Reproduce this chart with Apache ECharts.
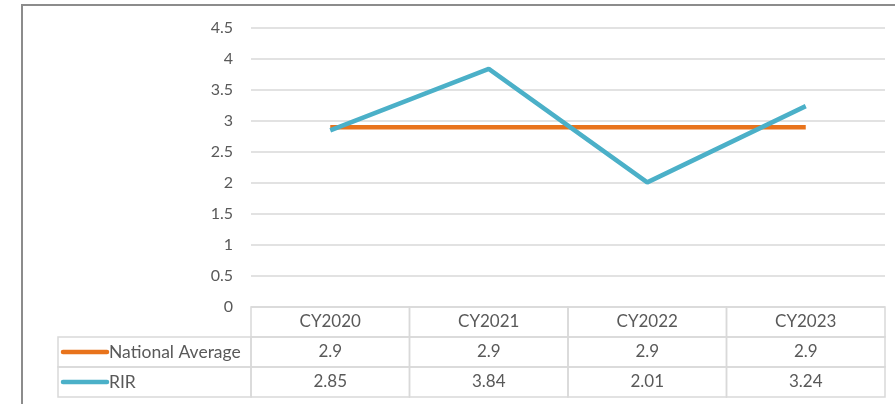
<!DOCTYPE html>
<html><head><meta charset="utf-8">
<script src="https://cdn.jsdelivr.net/npm/echarts@6/dist/echarts.min.js"></script>
<style>html,body{margin:0;padding:0;background:#fff}#c{width:895px;height:404px}</style>
</head><body><div id="c"></div>
<script>
var categories = ['CY2020', 'CY2021', 'CY2022', 'CY2023'];
var seriesNames = ['National Average', 'RIR'];
var nationalAverage = [2.9, 2.9, 2.9, 2.9];
var rir = [2.85, 3.84, 2.01, 3.24];
var yTicks = [0, 0.5, 1, 1.5, 2, 2.5, 3, 3.5, 4, 4.5];

var colors = ['#E8731C', '#4BB0C8'];
var textColor = '#595959';
var borderColor = '#d9d9d9';
var font = 'Lato, "Open Sans", sans-serif';
var rows = ['header'].concat(seriesNames);
var values = [nationalAverage, rir];

var cellData = [];
for (var r = 0; r < rows.length; r++) {
  for (var c = 0; c < categories.length; c++) cellData.push([c, r]);
}
var legendData = [[0, 1], [0, 2]];

function cellRender(params, api) {
  var c = api.value(0), r = api.value(1);
  var ctr = api.coord([c, r]);
  var sz = api.size([1, 1]);
  var txt = r === 0 ? categories[c] : String(values[r - 1][c]);
  return {
    type: 'group',
    children: [
      { type: 'rect', shape: { x: ctr[0] - sz[0] / 2, y: ctr[1] - sz[1] / 2, width: sz[0], height: sz[1] },
        style: { fill: 'none', stroke: borderColor, lineWidth: 1.5 } },
      { type: 'text', style: { x: ctr[0], y: ctr[1], text: txt, align: 'center', verticalAlign: 'middle',
        fill: textColor, font: '17px ' + font } }
    ]
  };
}
function legendRender(params, api) {
  var r = api.value(1);
  var ctr = api.coord([0, r]);
  var sz = api.size([1, 1]);
  var right = ctr[0] - sz[0] / 2;
  var left = 58;
  var top = ctr[1] - sz[1] / 2;
  return {
    type: 'group',
    children: [
      { type: 'rect', shape: { x: left, y: top, width: right - left, height: sz[1] },
        style: { fill: 'none', stroke: borderColor, lineWidth: 1.5 } },
      { type: 'line', shape: { x1: 63, y1: ctr[1], x2: 107, y2: ctr[1] },
        style: { stroke: colors[r - 1], lineWidth: 4.5, lineCap: 'round' } },
      { type: 'text', style: { x: 109, y: ctr[1], text: seriesNames[r - 1], align: 'left', verticalAlign: 'middle',
        fill: textColor, font: '17.5px ' + font } }
    ]
  };
}

var chart = echarts.init(document.getElementById('c'));
chart.setOption({
  animation: false,
  backgroundColor: '#fff',
  graphic: [{ type: 'rect', shape: { x: 22, y: 5, width: 900, height: 420 },
    style: { fill: 'none', stroke: '#8c8c8c', lineWidth: 2 }, z: 100 }],
  grid: [
    { left: 251, right: 10, top: 28, height: 279 },
    { left: 251, right: 10, top: 307, height: 90 }
  ],
  xAxis: [
    { gridIndex: 0, type: 'category', data: categories, boundaryGap: true,
      axisLine: { show: false }, axisTick: { show: false }, axisLabel: { show: false } },
    { gridIndex: 1, type: 'category', data: categories, boundaryGap: true, show: false }
  ],
  yAxis: [
    { gridIndex: 0, type: 'value', min: yTicks[0], max: yTicks[yTicks.length - 1], interval: 0.5,
      axisLine: { show: false }, axisTick: { show: false },
      axisLabel: { color: textColor, fontSize: 16, fontFamily: font, margin: 18 },
      splitLine: { lineStyle: { color: borderColor, width: 1.5 } } },
    { gridIndex: 1, type: 'category', data: rows, inverse: true, show: false }
  ],
  series: [
    { name: seriesNames[0], type: 'line', data: nationalAverage, xAxisIndex: 0, yAxisIndex: 0,
      showSymbol: false, lineStyle: { color: colors[0], width: 4.5 }, itemStyle: { color: colors[0] } },
    { name: seriesNames[1], type: 'line', data: rir, xAxisIndex: 0, yAxisIndex: 0,
      showSymbol: false, lineStyle: { color: colors[1], width: 4.5 }, itemStyle: { color: colors[1] } },
    { type: 'custom', xAxisIndex: 1, yAxisIndex: 1, data: cellData, renderItem: cellRender, silent: true },
    { type: 'custom', xAxisIndex: 1, yAxisIndex: 1, data: legendData, renderItem: legendRender, silent: true }
  ]
});
</script></body></html>
